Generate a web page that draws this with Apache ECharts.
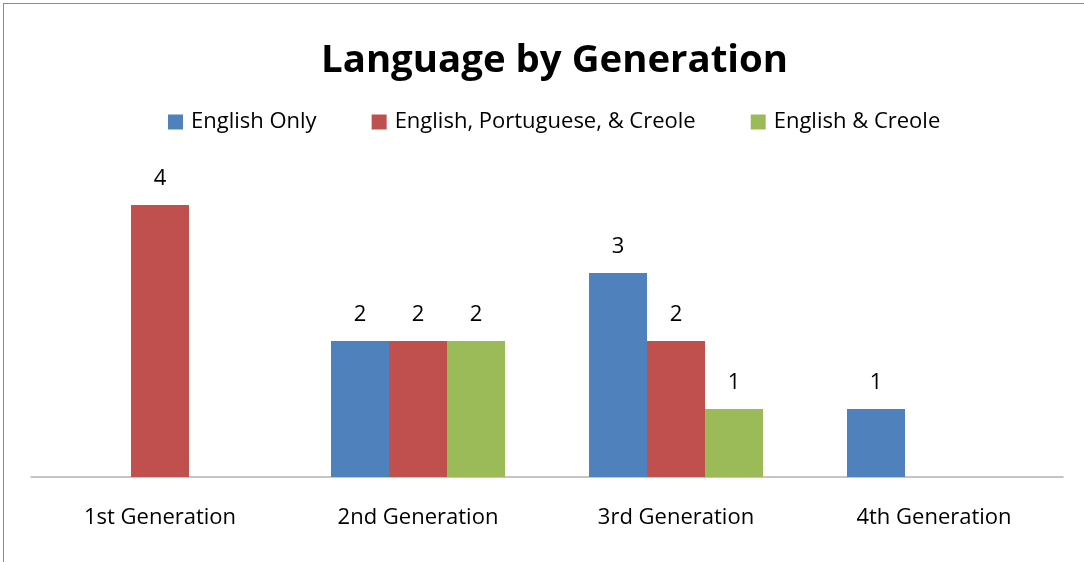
<!DOCTYPE html>
<html>
<head>
<meta charset="utf-8">
<script src="https://cdn.jsdelivr.net/npm/echarts@6/dist/echarts.min.js"></script>
<style>
html,body{margin:0;padding:0;background:#fff;}
#frame{position:absolute;left:3px;top:3px;width:1200px;height:700px;border-left:1px solid #8c8c8c;border-top:1px solid #8c8c8c;}
#chart{position:absolute;left:0;top:0;width:1084px;height:562px;}
</style>
</head>
<body>
<div id="frame"></div>
<div id="chart"></div>
<script>
const categories = ['1st Generation', '2nd Generation', '3rd Generation', '4th Generation'];
const seriesNames = ['English Only', 'English, Portuguese, & Creole', 'English & Creole'];
const englishOnly = [0, 2, 3, 1];
const englishPortugueseCreole = [4, 2, 2, 0];
const englishCreole = [0, 2, 1, 0];
const colors = ['#4F81BD', '#C0504D', '#9BBB59'];
const FONT = 'Open Sans';

const chart = echarts.init(document.getElementById('chart'));
const mk = (name, data, color) => ({
  name, type: 'bar', data, barWidth: 58, barGap: '0%',
  itemStyle: { color },
  label: {
    show: true, position: 'top', distance: 15,
    color: '#000', fontFamily: FONT, fontSize: 22,
    formatter: p => (p.value === 0 ? '' : String(p.value))
  }
});
chart.setOption({
  animation: false,
  title: {
    text: 'Language by Generation', left: 316, top: 37,
    textStyle: { fontFamily: FONT, fontWeight: 'bold', fontSize: 38.4, color: '#000' }
  },
  legend: {
    top: 106, left: 163, itemWidth: 15, itemHeight: 15, itemGap: 55,
    icon: 'rect',
    textStyle: { fontFamily: FONT, fontSize: 22, color: '#000', padding: [0, 0, 0, 3] },
    data: seriesNames
  },
  grid: { left: 31, right: 21, top: 205, bottom: 85, containLabel: false },
  xAxis: {
    type: 'category', data: categories,
    axisTick: { show: false },
    axisLine: { lineStyle: { color: '#b3b3b3', width: 1.5 } },
    axisLabel: { margin: 30, fontFamily: FONT, fontSize: 22, color: '#000' }
  },
  yAxis: { type: 'value', min: 0, max: 4, show: false, splitLine: { show: false } },
  series: [
    mk(seriesNames[0], englishOnly, colors[0]),
    mk(seriesNames[1], englishPortugueseCreole, colors[1]),
    mk(seriesNames[2], englishCreole, colors[2])
  ]
});
</script>
</body>
</html>
